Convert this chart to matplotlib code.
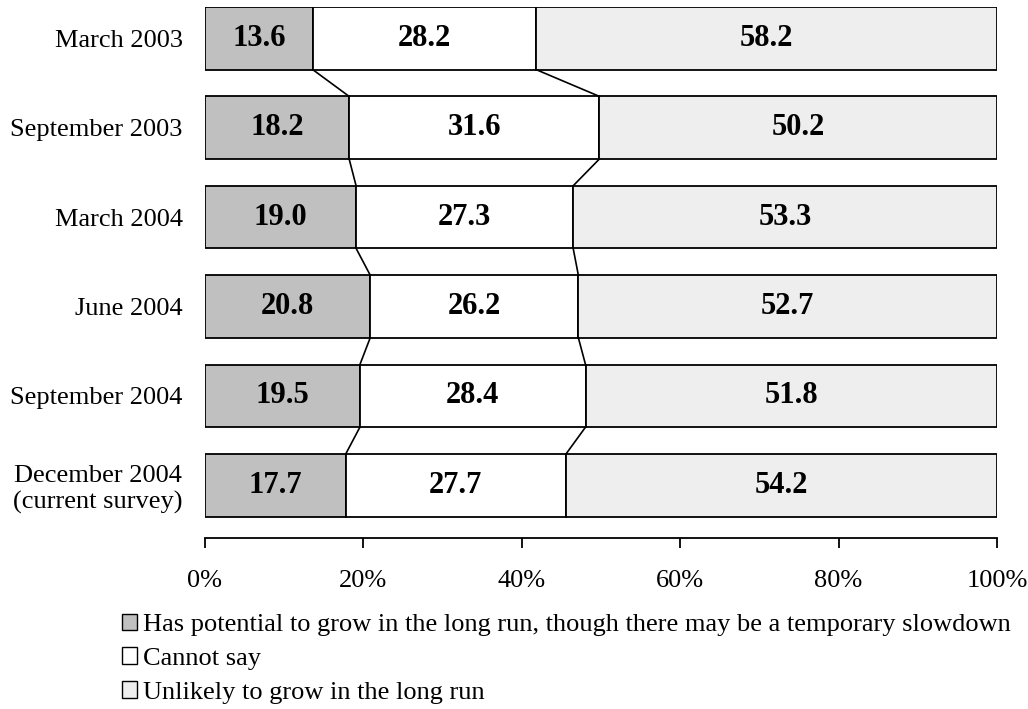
import numpy as np
import matplotlib.pyplot as plt
from matplotlib.patches import Patch

plt.rcParams['font.family'] = ['Liberation Serif', 'DejaVu Serif']

periods = ['March 2003', 'September 2003', 'March 2004', 'June 2004',
           'September 2004', 'December 2004\n(current survey)']
potential = [13.6, 18.2, 19.0, 20.8, 19.5, 17.7]
cannot_say = [28.2, 31.6, 27.3, 26.2, 28.4, 27.7]
unlikely = [58.2, 50.2, 53.3, 52.7, 51.8, 54.2]

labels = ['Has potential to grow in the long run, though there may be a temporary slowdown',
          'Cannot say',
          'Unlikely to grow in the long run']
colors = ['#c0c0c0', '#ffffff', '#eeeeee']

fig = plt.figure(figsize=(10.28, 7.09), dpi=100)
ax = fig.add_axes([205 / 1028, 1 - 538 / 709, 792 / 1028, 531 / 709])

y = np.arange(len(periods))
h = 0.7
series = [np.array(s) for s in (potential, cannot_say, unlikely)]
total = sum(series)
# 100% stacked: widths normalised to each row total, labels keep raw values
left = np.zeros(len(periods))
bounds = []
for vals, c, lab in zip(series, colors, labels):
    w = vals / total * 100
    ax.barh(y, w, left=left, height=h, color=c, edgecolor='black',
            linewidth=1.3, label=lab)
    for yi, l, ww, v in zip(y, left, w, vals):
        ax.text(l + ww / 2, yi, f'{v:.1f}', ha='center', va='center',
                fontsize=22, fontweight='bold')
    left = left + w
    bounds.append(left.copy())

# series lines between bars
for cum in bounds[:2]:
    for i in range(len(periods) - 1):
        ax.plot([cum[i], cum[i + 1]], [y[i] + h / 2, y[i + 1] - h / 2],
                color='black', lw=1.2)

ax.set_xlim(0, 100)
ax.set_ylim(5.59, -0.35)
ax.set_yticks(y)
ax.set_yticklabels(periods, fontsize=19, multialignment='center')
ax.tick_params(axis='y', length=0, pad=16)
ax.set_xticks(np.arange(0, 101, 20))
ax.set_xticklabels([f'{v}%' for v in range(0, 101, 20)], fontsize=19)
ax.tick_params(axis='x', length=7, width=1.3, pad=16)
for s in ['top', 'right', 'left']:
    ax.spines[s].set_visible(False)
ax.spines['bottom'].set_linewidth(1.3)

handles = [Patch(facecolor=c, edgecolor='black', linewidth=1.0) for c in colors]
fig.legend(handles, labels, loc='upper left', bbox_to_anchor=(111 / 1028, 1 - 603 / 709),
           frameon=False, fontsize=19, handlelength=0.6, handleheight=0.6,
           handletextpad=0.2, labelspacing=0.42, borderaxespad=0)

fig.savefig('out.png', dpi=100)
